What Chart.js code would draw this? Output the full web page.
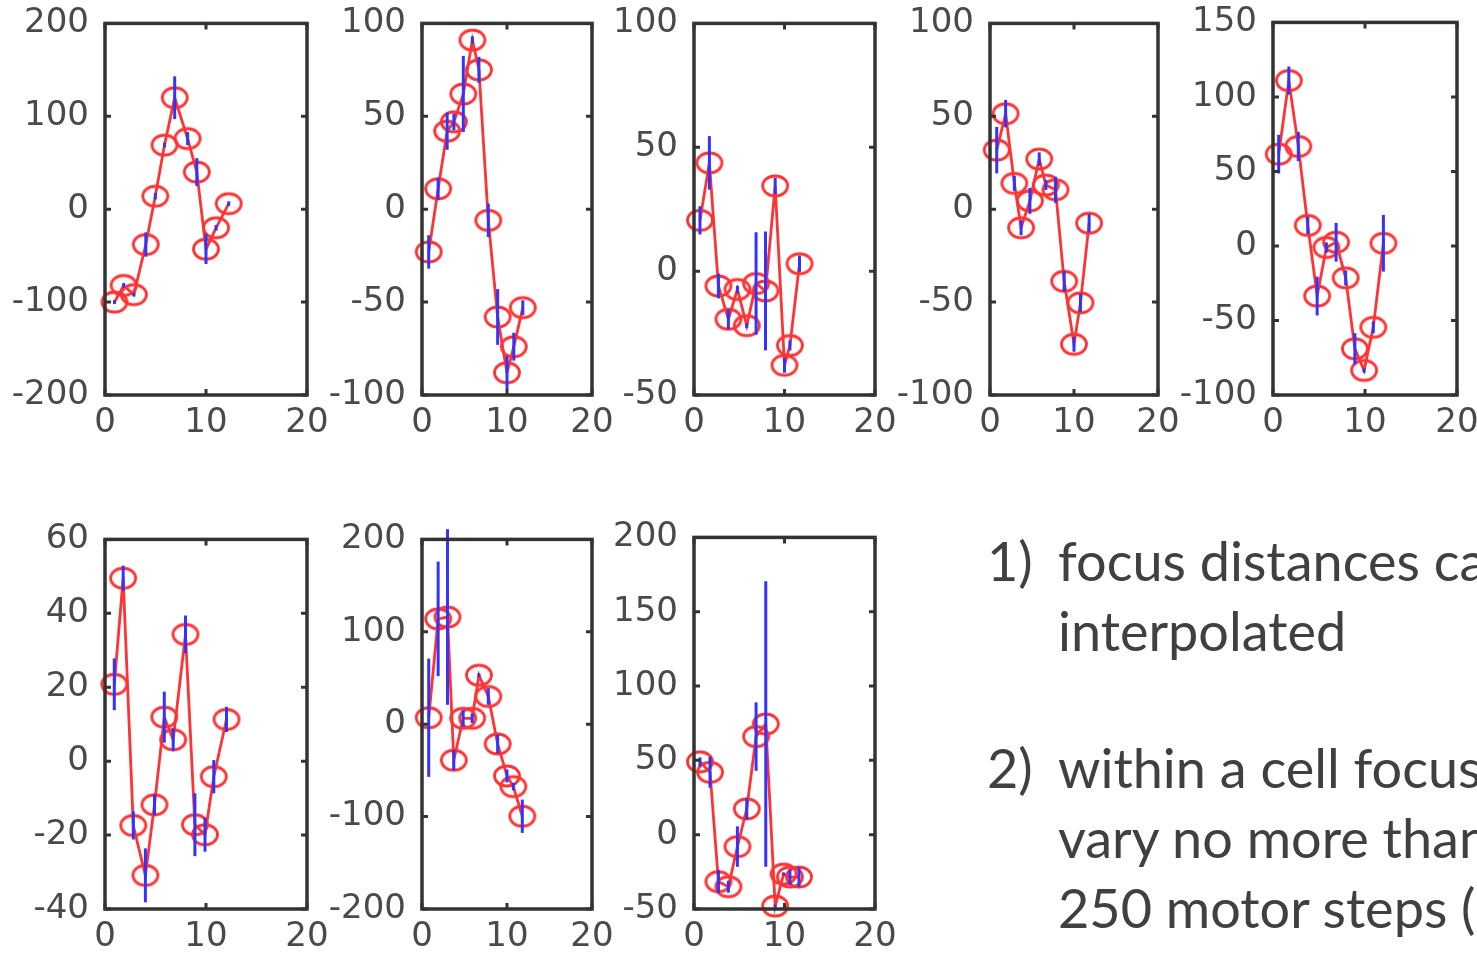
<!DOCTYPE html>
<html><head><meta charset="utf-8">
<script src="https://cdn.jsdelivr.net/npm/chart.js@4/dist/chart.umd.min.js"></script>
<style>
html,body{margin:0;padding:0;background:#fff;width:1477px;height:953px;overflow:hidden;position:relative}
.pc{position:absolute}
.txt{position:absolute;font-family:Lato,"Open Sans",sans-serif;font-size:54px;line-height:70px;color:#404040;white-space:nowrap}
</style></head><body>
<div class="txt" style="left:987px;top:526px">1)</div>
<div class="txt" style="left:1058px;top:526px">focus distances can be</div>
<div class="txt" style="left:1058px;top:596px">interpolated</div>
<div class="txt" style="left:987px;top:733px">2)</div>
<div class="txt" style="left:1058px;top:733px">within a cell focus</div>
<div class="txt" style="left:1058px;top:803px">vary no more than</div>
<div class="txt" style="left:1058px;top:873px">250 motor steps (</div>
<script>
// ---- data ----
const xTicks = [0, 10, 20];

const p1x = [0.94, 1.85, 2.86, 4.04, 4.98, 5.89, 6.9, 8.18, 9.09, 10.0, 11.0, 12.25];
const p1y = [-100, -82, -92, -38, 14, 69, 120, 76, 40, -43, -20, 6];
const p1e = [2, 2.5, 2, 13, 3.5, 2.5, 23, 7, 15, 16, 3, 2.5];
const p1yTicks = [-200, -100, 0, 100, 200];

const p2x = [0.79, 1.9, 2.96, 3.75, 4.86, 5.93, 6.7, 7.8, 8.9, 10.0, 10.8, 11.86];
const p2y = [-23, 11, 42, 47, 62, 91, 75, -6, -58, -88, -74, -53];
const p2e = [9, 6, 10, 4.5, 20.5, 2, 7, 9, 15, 9, 7.5, 4];
const p2yTicks = [-100, -50, 0, 50, 100];

const p3x = [0.66, 1.7, 2.7, 3.8, 4.8, 5.83, 6.86, 7.9, 8.97, 10.0, 10.6, 11.66];
const p3y = [20.5, 43.7, -6, -19.4, -7.4, -22, -5, -8, 34.4, -38, -30, 3];
const p3e = [5.7, 10.8, 5, 4, 1.5, 1, 20.7, 24, 3.3, 3, 2, 3.3];
const p3yTicks = [-50, 0, 50, 100];

const p4x = [0.8, 1.86, 2.9, 3.7, 4.75, 5.86, 6.65, 7.8, 8.83, 10.0, 10.77, 11.8];
const p4y = [31.8, 51.4, 13.9, -10, 4.5, 27, 13, 10.5, -38.8, -72.7, -50.4, -7.5];
const p4e = [12.5, 7.4, 4, 4, 7, 3.6, 2.7, 7, 5.6, 4, 5, 5];
const p4yTicks = [-100, -50, 0, 50, 100];

const p5x = [0.62, 1.72, 2.75, 3.78, 4.8, 5.8, 6.86, 7.9, 8.9, 9.9, 10.9, 12.0];
const p5y = [61.6, 111, 66.8, 13.8, -33.6, -1, 2.5, -21.4, -69, -83.5, -54.6, 1.8];
const p5e = [13, 9.4, 9.8, 5.9, 13, 3.4, 13, 5, 10.5, 1.5, 4, 19];
const p5yTicks = [-100, -50, 0, 50, 100, 150];

const p6x = [0.92, 1.8, 2.8, 4.0, 4.9, 5.87, 6.75, 7.97, 8.9, 9.9, 10.77, 12.03];
const p6y = [20.8, 49.5, -17.4, -30.9, -11.8, 11.9, 5.8, 34.3, -17.2, -19.9, -4.2, 11.3];
const p6e = [7, 3.4, 3.8, 7.3, 2.9, 6.9, 3.1, 5.1, 8.5, 4.6, 4.5, 3.4];
const p6yTicks = [-40, -20, 0, 20, 40, 60];

const p7x = [0.79, 1.9, 3.0, 3.74, 4.84, 5.9, 6.7, 7.8, 8.9, 10.0, 10.75, 11.8];
const p7y = [7, 114, 116, -39, 6.4, 6.4, 53, 30, -21.4, -56, -67.5, -99.6];
const p7e = [64, 62, 95, 11, 9, 5, 2, 9, 10, 7, 4, 18];
const p7yTicks = [-200, -100, 0, 100, 200];

const p8x = [0.66, 1.77, 2.7, 3.8, 4.8, 5.83, 6.86, 7.93, 8.97, 9.9, 10.6, 11.6];
const p8y = [49, 42, -31.6, -35, -8, 17.4, 66, 74.5, -48, -26.5, -28.5, -28.5];
const p8e = [3, 10.4, 7.8, 4, 13.6, 7.3, 23, 96, 1, 1, 5.3, 6.7];
const p8yTicks = [-50, 0, 50, 100, 150, 200];

// ---- layout (plot frame positions in page pixels) ----
const frames = [
  {L:105, R:307, T:23, B:395},
  {L:422, R:592, T:23, B:395},
  {L:694, R:875, T:23, B:395},
  {L:990, R:1158, T:23, B:395},
  {L:1273, R:1457, T:22, B:395},
  {L:105, R:307, T:539, B:909},
  {L:422, R:592, T:539, B:909},
  {L:694, R:875, T:537, B:909}
];
const panels = [
  [p1x, p1y, p1e, p1yTicks], [p2x, p2y, p2e, p2yTicks], [p3x, p3y, p3e, p3yTicks],
  [p4x, p4y, p4e, p4yTicks], [p5x, p5y, p5e, p5yTicks], [p6x, p6y, p6e, p6yTicks],
  [p7x, p7y, p7e, p7yTicks], [p8x, p8y, p8e, p8yTicks]
];

const RED = '#ff3333', BLUE = '#3333ff', FRAME = '#333333', LABEL = '#4a4a4a';
const tickFont = {family: '"DejaVu Sans"', size: 34};

// hollow ellipse marker
const marker = document.createElement('canvas');
marker.width = 32; marker.height = 28;
(function(){
  const c = marker.getContext('2d');
  c.strokeStyle = RED; c.lineWidth = 2.8;
  c.beginPath(); c.ellipse(16, 14, 12.5, 10, 0, 0, Math.PI*2); c.stroke();
})();

const errPlugin = {
  id: 'errbars',
  afterDatasetsDraw(chart, args, opts) {
    const {ctx} = chart, xs = chart.scales.x, ys = chart.scales.y;
    const d = opts.data;
    ctx.save();
    ctx.strokeStyle = BLUE; ctx.lineWidth = 3; ctx.lineCap = 'butt';
    d.x.forEach((xv, k) => {
      const px = xs.getPixelForValue(xv);
      ctx.beginPath();
      ctx.moveTo(px, ys.getPixelForValue(d.y[k] - d.e[k]));
      ctx.lineTo(px, ys.getPixelForValue(d.y[k] + d.e[k]));
      ctx.stroke();
    });
    ctx.restore();
  }
};
const framePlugin = {
  id: 'frame',
  afterDraw(chart) {
    const {ctx, chartArea: a} = chart, xs = chart.scales.x, ys = chart.scales.y;
    ctx.save();
    ctx.strokeStyle = FRAME; ctx.lineWidth = 3.5;
    ctx.strokeRect(a.left, a.top, a.right - a.left, a.bottom - a.top);
    const T = 6;
    ctx.lineWidth = 3;
    ctx.beginPath();
    ys.ticks.forEach(t => {
      const py = ys.getPixelForValue(t.value);
      ctx.moveTo(a.left, py); ctx.lineTo(a.left + T, py);
      ctx.moveTo(a.right, py); ctx.lineTo(a.right - T, py);
    });
    xs.ticks.forEach(t => {
      const px = xs.getPixelForValue(t.value);
      ctx.moveTo(px, a.top); ctx.lineTo(px, a.top + T);
      ctx.moveTo(px, a.bottom); ctx.lineTo(px, a.bottom - T);
    });
    ctx.stroke();
    ctx.restore();
  }
};

const ML = 110, MT = 30, MR = 35, MB = 60;
panels.forEach((p, i) => {
  const [px, py, pe, yt] = p;
  const f = frames[i];
  const w = f.R - f.L + ML + MR, h = f.B - f.T + MT + MB;
  const cv = document.createElement('canvas');
  cv.className = 'pc';
  cv.width = w; cv.height = h;
  cv.style.left = (f.L - ML) + 'px'; cv.style.top = (f.T - MT) + 'px';
  cv.style.width = w + 'px'; cv.style.height = h + 'px';
  document.body.appendChild(cv);
  const chart = new Chart(cv, {
    type: 'scatter',
    data: {datasets: [{
      data: px.map((x, k) => ({x: x, y: py[k]})),
      showLine: true, borderColor: RED, borderWidth: 2.8, tension: 0,
      pointStyle: marker, pointRadius: 12, pointHoverRadius: 12,
      clip: false
    }]},
    options: {
      responsive: false, maintainAspectRatio: false, animation: false, devicePixelRatio: 1,
      events: [],
      layout: {padding: {left: 0, top: MT, right: MR, bottom: 0}},
      plugins: {legend: {display: false}, tooltip: {enabled: false},
        errbars: {data: {x: px, y: py, e: pe}}},
      scales: {
        x: {
          type: 'linear', min: xTicks[0], max: xTicks[xTicks.length - 1],
          afterBuildTicks: s => { s.ticks = xTicks.map(v => ({value: v})); },
          ticks: {font: tickFont, color: LABEL, padding: 8, maxRotation: 0, autoSkip: false},
          grid: {display: false, drawTicks: false}, border: {display: false},
          afterFit: s => { s.height = MB; }
        },
        y: {
          type: 'linear', min: yt[0], max: yt[yt.length - 1],
          afterBuildTicks: s => { s.ticks = yt.map(v => ({value: v})); },
          ticks: {font: tickFont, color: LABEL, padding: 16, autoSkip: false},
          grid: {display: false, drawTicks: false}, border: {display: false},
          afterFit: s => { s.width = ML; }
        }
      }
    },
    plugins: [errPlugin, framePlugin]
  });
  // align the plot area with the frame: resize canvas so the area height matches, then shift
  const a0 = chart.chartArea;
  const newH = Math.round(a0.top + (f.B - f.T) + MB);
  chart.resize(w, newH);
  const a1 = chart.chartArea;
  cv.style.top = (f.T - a1.top) + 'px';
  cv.style.left = (f.L - a1.left) + 'px';
});
</script>
</body></html>
